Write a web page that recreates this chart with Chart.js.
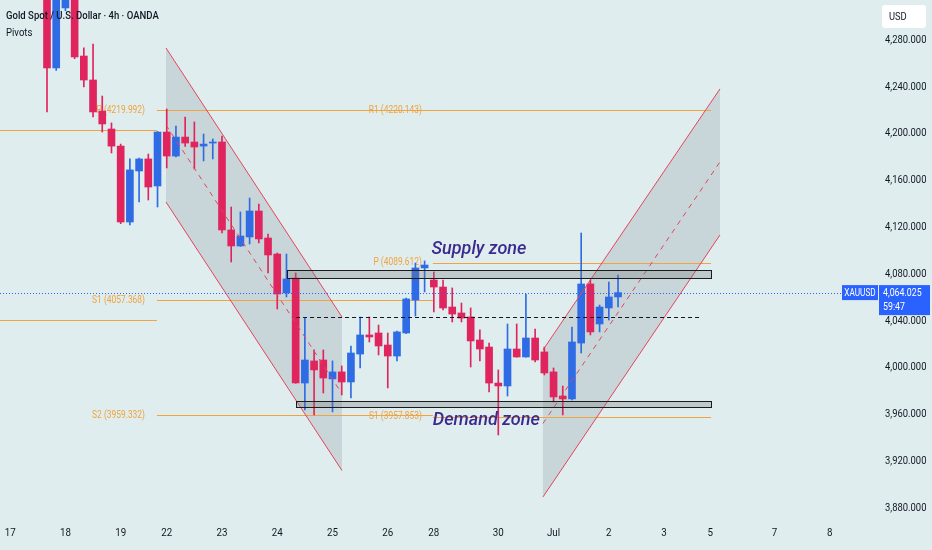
<!DOCTYPE html>
<html>
<head>
<meta charset="utf-8">
<title>Gold Spot / U.S. Dollar 4h</title>
<script src="https://cdn.jsdelivr.net/npm/chart.js@4.4.1/dist/chart.umd.min.js"></script>
<style>
  html, body { margin: 0; padding: 0; background: #dfedef; }
  canvas { display: block; }
</style>
</head>
<body>
<canvas id="goldChart" width="932" height="550"></canvas>
<script>
// 4h candles, left to right (the first few run off the top of the view)
const opens  = [4335, 4256.1, 4307.4, 4322, 4266.3, 4245.8, 4219.3, 4203.9, 4189.3, 4124.4,
                4168.0, 4178.3, 4155.2, 4201.3, 4180.8, 4197.0, 4192.8, 4189.3, 4191.9, 4192.8,
                4117.6, 4103.9, 4111.6, 4133.8, 4110.7, 4097.0, 4063.7, 4076.5, 3986.7, 4005.6,
                4006.4, 3990.2, 3996.2, 3987.6, 4011.5, 4027.8, 4029.5, 4019.2, 4009.8, 4029.5,
                4057.7, 4085.1, 4074.8, 4068.8, 4051.7, 4046.6, 4043.2, 4023.5, 4017.5, 3986.7,
                3984.2, 4015.8, 4009.0, 4025.2, 4013.3, 3996.2, 3975.6, 3973.1, 4020.9, 4071.4,
                4037.2, 4050.9, 4060.3];
const highs  = [4345, 4340, 4335, 4330, 4273.2, 4276.6, 4232.1, 4209.1, 4191.0, 4178.3,
                4179.1, 4182.5, 4201.8, 4221.0, 4206.5, 4214.2, 4209.9, 4199.6, 4195.4, 4197.9,
                4137.2, 4133.0, 4144.9, 4139.8, 4114.1, 4097.9, 4097.0, 4080.8, 4042.3, 4015.0,
                4015.0, 4005.6, 4001.3, 4018.4, 4043.2, 4043.2, 4036.3, 4029.5, 4031.2, 4059.4,
                4089.3, 4091.1, 4081.7, 4074.8, 4068.0, 4055.1, 4050.9, 4032.1, 4020.9, 3997.9,
                4037.2, 4037.2, 4062.8, 4032.9, 4017.5, 3999.6, 3984.2, 4034.6, 4115.0, 4074.8,
                4053.4, 4073.1, 4079.1];
const lows   = [4218.5, 4254, 4305, 4264, 4239.8, 4214.2, 4201.3, 4183.4, 4123.0, 4121.8,
                4141.5, 4143.2, 4137.2, 4170.6, 4180.0, 4189.0, 4169.7, 4176.6, 4178.3, 4115.0,
                4090.2, 4103.5, 4105.6, 4106.5, 4080.8, 4050.0, 4060.3, 3986.5, 3963.7, 3959.4,
                3978.2, 3962.0, 3976.5, 3973.9, 3999.6, 4021.8, 4010.7, 3982.5, 4005.6, 4029.0,
                4044.0, 4064.6, 4047.5, 4049.2, 4038.9, 4038.9, 4000.4, 4005.6, 3979.1, 3942.3,
                3975.6, 4008.8, 4008.8, 4004.7, 3993.6, 3970.5, 3959.4, 3972.2, 4012.4, 4027.8,
                4030.4, 4040.6, 4051.7];
const closes = [4256.1, 4330, 4325, 4265.5, 4245.8, 4218.5, 4208.2, 4189.3, 4124.4, 4168.9,
                4178.3, 4154.3, 4201.3, 4180.8, 4197.0, 4191.9, 4188.5, 4191.0, 4192.8, 4117.6,
                4103.9, 4112.4, 4133.8, 4109.9, 4096.2, 4062.8, 4075.7, 3986.7, 4006.4, 3997.9,
                3991.0, 3996.2, 3987.6, 4012.4, 4027.8, 4026.1, 4018.4, 4009.8, 4030.4, 4058.6,
                4085.1, 4087.6, 4068.8, 4050.9, 4045.7, 4042.3, 4022.7, 4015.8, 3986.7, 3984.2,
                4015.8, 4009.0, 4025.2, 4006.4, 3995.3, 3974.8, 3973.1, 4021.8, 4071.4, 4030.4,
                4051.7, 4060.3, 4064.025];

// time axis (bar index of each day label)
const dayTickPos    = [-4, 2, 8, 13, 19, 25, 31, 37, 42, 49, 55, 61, 67, 72, 79, 85];
const dayTickLabels = ['17', '18', '19', '22', '23', '24', '25', '26', '28', '30', 'Jul', '2', '3', '5', '7', '8'];
const priceTicks = [3880, 3920, 3960, 4000, 4040, 4080, 4120, 4160, 4200, 4240, 4280];

// pivot periods: bar index where each period starts / ends
const periodEdges = [-6, 11.94, 41.9, 72.1];
const prevPivotValues = [4203.0, 4040.6];
const pivotANames  = ['P', 'S1', 'S2'];
const pivotAValues = [4219.992, 4057.368, 3959.332];
const pivotBNames  = ['R1', 'P', 'S1'];
const pivotBValues = [4220.143, 4089.612, 3957.853];

// drawn channels: [start, end] bar index and the two rails
const fallX = [12.92, 32.03];
const fallUpper = [4273.2, 4043.2];
const fallLower = [4141.5, 3911.9];
const riseX = [53.85, 73.07];
const riseUpper = [4015.0, 4238.2];
const riseLower = [3889.3, 4113.3];

// zones: x from, x to, price low, price high
const supplyZone = [26.06, 72.1, 4076.5, 4083.4];
const demandZone = [27.04, 72.1, 3966.2, 3971.4];
const midLevelX = [27.04, 70.9];
const midLevel = 4043.2;
const lastPrice = 4064.025;

const BG = '#dfedef';
const UP = '#2e6be5';
const DOWN = '#e0245e';
const PIVOT = '#f0a33e';
const CHANNEL = '#e8435a';
const TEXT = '#131722';
const FONT = 'Roboto, "Noto Sans", sans-serif';

const candleColors = closes.map((c, i) => c >= opens[i] ? UP : DOWN);

// the screenshot uses a narrow face, so squeeze text horizontally
function squeezed(c, text, x, y, align, sx) {
    c.save();
    c.translate(x, y);
    c.scale(sx, 1);
    c.textAlign = align;
    c.fillText(text, 0, 0);
    c.restore();
}

function zeroPad(s) {
    s.paddingLeft = 0;
    s.paddingRight = 0;
    s.paddingTop = 0;
    s.paddingBottom = 0;
}

const overlay = {
    id: 'overlay',
    beforeDraw(chart) {
        const c = chart.ctx;
        c.save();
        c.fillStyle = BG;
        c.fillRect(0, 0, chart.width, chart.height);
        c.restore();
    },
    beforeDatasetsDraw(chart) {
        const c = chart.ctx;
        const X = v => chart.scales.x.getPixelForValue(v);
        const Y = v => chart.scales.y.getPixelForValue(v);
        const area = chart.chartArea;
        c.save();
        c.beginPath();
        c.rect(area.left, area.top, area.right - area.left, area.bottom - area.top);
        c.clip();

        // channel shading
        c.fillStyle = 'rgba(100,110,115,0.18)';
        [[fallX, fallUpper, fallLower], [riseX, riseUpper, riseLower]].forEach(([xs, up, lo]) => {
            c.beginPath();
            c.moveTo(X(xs[0]), Y(up[0]));
            c.lineTo(X(xs[1]), Y(up[1]));
            c.lineTo(X(xs[1]), Y(lo[1]));
            c.lineTo(X(xs[0]), Y(lo[0]));
            c.closePath();
            c.fill();
        });

        // pivot lines
        c.strokeStyle = PIVOT;
        c.lineWidth = 1;
        const seg = (x0, x1, v) => {
            c.beginPath();
            c.moveTo(X(x0), Math.round(Y(v)) + 0.5);
            c.lineTo(X(x1), Math.round(Y(v)) + 0.5);
            c.stroke();
        };
        prevPivotValues.forEach(v => seg(periodEdges[0], periodEdges[1], v));
        pivotAValues.forEach(v => seg(periodEdges[1], periodEdges[2], v));
        pivotBValues.forEach(v => seg(periodEdges[2], periodEdges[3], v));

        c.fillStyle = PIVOT;
        c.font = '10.5px ' + FONT;
        c.textBaseline = 'middle';
        pivotAValues.forEach((v, k) => {
            squeezed(c, pivotANames[k] + ' (' + v.toFixed(3) + ')', X(periodEdges[1]) - 12, Y(v), 'right', 0.8);
        });
        pivotBValues.forEach((v, k) => {
            squeezed(c, pivotBNames[k] + ' (' + v.toFixed(3) + ')', X(periodEdges[2]) - 11, Y(v), 'right', 0.8);
        });
        c.restore();
    },
    afterDatasetsDraw(chart) {
        const c = chart.ctx;
        const X = v => chart.scales.x.getPixelForValue(v);
        const Y = v => chart.scales.y.getPixelForValue(v);
        const area = chart.chartArea;
        c.save();
        c.beginPath();
        c.rect(area.left, area.top, area.right - area.left, area.bottom - area.top);
        c.clip();

        // channel rails and dashed middle
        c.strokeStyle = CHANNEL;
        c.lineWidth = 1;
        [[fallX, fallUpper, fallLower], [riseX, riseUpper, riseLower]].forEach(([xs, up, lo]) => {
            c.setLineDash([]);
            c.beginPath();
            c.moveTo(X(xs[0]), Y(up[0]));
            c.lineTo(X(xs[1]), Y(up[1]));
            c.moveTo(X(xs[0]), Y(lo[0]));
            c.lineTo(X(xs[1]), Y(lo[1]));
            c.stroke();
            c.setLineDash([5, 5]);
            c.beginPath();
            c.moveTo(X(xs[0]), Y((up[0] + lo[0]) / 2));
            c.lineTo(X(xs[1]), Y((up[1] + lo[1]) / 2));
            c.stroke();
        });
        c.setLineDash([]);

        // supply / demand boxes
        [supplyZone, demandZone].forEach(z => {
            const x0 = Math.round(X(z[0])) + 0.5, x1 = Math.round(X(z[1])) + 0.5;
            const y0 = Math.round(Y(z[3])) + 0.5, y1 = Math.round(Y(z[2])) + 0.5;
            c.fillStyle = 'rgba(120,125,128,0.32)';
            c.fillRect(x0, y0, x1 - x0, y1 - y0);
            c.strokeStyle = '#1b1b1b';
            c.strokeRect(x0, y0, x1 - x0, y1 - y0);
        });

        // dashed mid level
        c.strokeStyle = TEXT;
        c.setLineDash([4, 3]);
        c.beginPath();
        c.moveTo(X(midLevelX[0]), Math.round(Y(midLevel)) + 0.5);
        c.lineTo(X(midLevelX[1]), Math.round(Y(midLevel)) + 0.5);
        c.stroke();

        // last price dotted line
        c.strokeStyle = '#2962ff';
        c.setLineDash([1, 2]);
        c.beginPath();
        c.moveTo(area.left, Math.round(Y(lastPrice)) + 0.5);
        c.lineTo(842, Math.round(Y(lastPrice)) + 0.5);
        c.stroke();
        c.setLineDash([]);

        // zone captions
        c.fillStyle = '#3b2a8e';
        c.font = 'italic 500 18px ' + FONT;
        c.textAlign = 'center';
        c.textBaseline = 'middle';
        c.fillText('Supply zone', X(46.9), Y(4100.5));
        c.fillText('Demand zone', X(47.7), Y(3955.1));
        c.restore();
    },
    afterDraw(chart) {
        const c = chart.ctx;
        const sx = chart.scales.x, sy = chart.scales.y;
        const Y = v => sy.getPixelForValue(v);
        c.save();
        c.fillStyle = TEXT;
        c.textBaseline = 'middle';

        // axis labels
        c.font = '11.5px ' + FONT;
        sy.ticks.forEach(t => {
            const txt = t.value.toLocaleString('en-US', { minimumFractionDigits: 3, maximumFractionDigits: 3 });
            squeezed(c, txt, 885, sy.getPixelForValue(t.value), 'left', 0.82);
        });
        sx.ticks.forEach((t, i) => {
            squeezed(c, dayTickLabels[i], sx.getPixelForValue(t.value), chart.chartArea.bottom + 13, 'center', 0.85);
        });

        c.font = '500 11.5px ' + FONT;
        squeezed(c, 'Gold Spot / U.S. Dollar \u00b7 4h \u00b7 OANDA', 6, 16, 'left', 0.83);
        c.font = '11.5px ' + FONT;
        squeezed(c, 'Pivots', 6, 33, 'left', 0.83);

        // currency box
        c.fillStyle = '#ffffff';
        c.beginPath();
        c.roundRect(882, 5, 44, 23, 3);
        c.fill();
        c.fillStyle = TEXT;
        c.font = '11px ' + FONT;
        squeezed(c, 'USD', 889, 17, 'left', 0.85);

        // last price tags
        const py = Y(lastPrice);
        c.fillStyle = '#2962ff';
        c.fillRect(842, py - 7.5, 36, 15);
        c.fillRect(879, py - 7.5, 51, 30);
        c.fillStyle = '#ffffff';
        c.font = '10.5px ' + FONT;
        squeezed(c, 'XAUUSD', 860, py + 0.5, 'center', 0.78);
        c.font = '11px ' + FONT;
        squeezed(c, '4,064.025', 883, py + 0.5, 'left', 0.8);
        squeezed(c, '59:47', 883, py + 14.5, 'left', 0.8);
        c.restore();
    }
};

const ctx = document.getElementById('goldChart').getContext('2d');
const xs = closes.map((c, i) => i);

const chart = new Chart(ctx, {
    type: 'bar',
    data: {
        datasets: [{
            label: 'wick',
            data: xs.map(i => ({ x: i, y: [lows[i], highs[i]] })),
            backgroundColor: candleColors,
            barThickness: 1,
            grouped: false,
            order: 2
        }, {
            label: 'body',
            data: xs.map(i => ({ x: i, y: [Math.min(opens[i], closes[i]), Math.max(opens[i], closes[i])] })),
            backgroundColor: candleColors,
            barThickness: 7,
            minBarLength: 1,
            grouped: false,
            order: 1
        }]
    },
    options: {
        responsive: false,
        animation: false,
        layout: { padding: 0 },
        plugins: { legend: { display: false }, tooltip: { enabled: false } },
        scales: {
            x: {
                type: 'linear',
                min: -5.103,
                max: 88.056,
                offset: false,
                grid: { display: false, drawTicks: false },
                border: { display: false },
                afterBuildTicks: s => { s.ticks = dayTickPos.map(v => ({ value: v })); },
                afterFit: s => { s.height = 30; zeroPad(s); },
                ticks: { display: false, autoSkip: false }
            },
            y: {
                type: 'linear',
                position: 'right',
                min: 3869.6,
                max: 4314.2,
                grid: { display: false, drawTicks: false },
                border: { display: false },
                afterBuildTicks: s => { s.ticks = priceTicks.map(v => ({ value: v })); },
                afterFit: s => { s.width = 74; zeroPad(s); },
                ticks: { display: false }
            }
        }
    },
    plugins: [overlay]
});
</script>
</body>
</html>
